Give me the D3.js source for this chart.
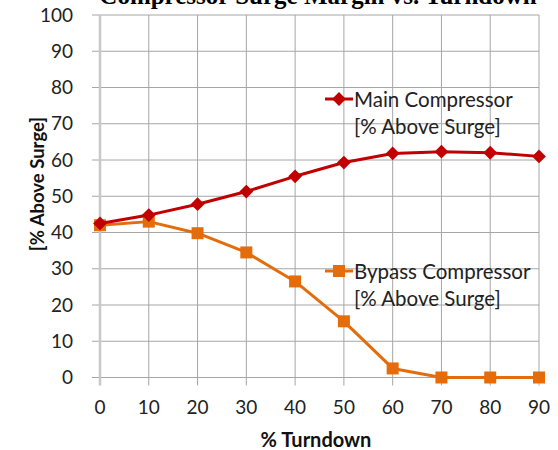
<!DOCTYPE html>
<html>
<head>
<meta charset="utf-8">
<script src="https://cdn.jsdelivr.net/npm/d3@7"></script>
<style>
  html, body { margin: 0; padding: 0; background: #fff; }
  svg { display: block; }
</style>
</head>
<body>
<svg id="chart" width="558" height="450"></svg>
<script>
const turndown = [0, 10, 20, 30, 40, 50, 60, 70, 80, 90];
const mainCompressor = [42.5, 44.8, 47.8, 51.3, 55.5, 59.3, 61.8, 62.3, 62.0, 61.0];
const bypassCompressor = [42.0, 43.0, 39.8, 34.5, 26.5, 15.5, 2.5, 0, 0, 0];
const yTicks = [0, 10, 20, 30, 40, 50, 60, 70, 80, 90, 100];
const xTicks = [0, 10, 20, 30, 40, 50, 60, 70, 80, 90];
const seriesNames = [["Main Compressor", "[% Above Surge]"], ["Bypass Compressor", "[% Above Surge]"]];
const titleText = "Compressor Surge Margin vs. Turndown";

(function () {
const svg = d3.select("#chart");
const font = "Lato, 'Open Sans', sans-serif";
const pLeft = 100, pRight = 539, pTop = 15, pBottom = 377.5;

const x = d3.scaleLinear().domain([0, 90]).range([pLeft, pRight]);
const y = d3.scaleLinear().domain([0, 100]).range([pBottom, pTop]);

// title (cut off at top, as in the reference)
svg.append("text")
  .attr("x", 318).attr("y", 4)
  .attr("text-anchor", "middle")
  .attr("font-family", "'Liberation Serif', serif")
  .attr("font-weight", "bold")
  .attr("font-size", 25)
  .attr("fill", "#000")
  .text(titleText);

// horizontal grid
svg.append("g").selectAll("line").data(yTicks).join("line")
  .attr("x1", pLeft - 8).attr("x2", pRight)
  .attr("y1", d => y(d)).attr("y2", d => y(d))
  .attr("stroke", "#a6a6a6").attr("stroke-width", 1);

// vertical grid
svg.append("g").selectAll("line").data(xTicks).join("line")
  .attr("x1", d => x(d)).attr("x2", d => x(d))
  .attr("y1", pTop).attr("y2", pBottom + 8)
  .attr("stroke", d => d === 0 ? "#c8c8c8" : "#a6a6a6")
  .attr("stroke-width", d => d === 0 ? 2.5 : 1);

// y tick labels
svg.append("g").selectAll("text").data(yTicks).join("text")
  .attr("x", 73).attr("y", d => y(d))
  .attr("dy", "0.35em")
  .attr("text-anchor", "end")
  .attr("font-family", font).attr("font-size", 19)
  .attr("fill", "#222")
  .text(d => d);

// x tick labels
svg.append("g").selectAll("text").data(xTicks).join("text")
  .attr("x", d => x(d)).attr("y", 407)
  .attr("dy", "0.35em")
  .attr("text-anchor", "middle")
  .attr("font-family", font).attr("font-size", 19)
  .attr("fill", "#222")
  .text(d => d);

// axis titles
svg.append("text")
  .attr("transform", `translate(44,184) rotate(-90)`)
  .attr("text-anchor", "middle")
  .attr("font-family", font).attr("font-weight", "bold").attr("font-size", 18.5)
  .attr("fill", "#111")
  .text("[% Above Surge]");

svg.append("text")
  .attr("x", 316).attr("y", 447)
  .attr("text-anchor", "middle")
  .attr("font-family", font).attr("font-weight", "bold").attr("font-size", 20)
  .attr("fill", "#111")
  .text("% Turndown");

const line = d3.line().x((d, i) => x(turndown[i])).y(d => y(d));
const mainColor = "#c00000", bypassColor = "#e46c0a";

// bypass series
svg.append("path").datum(bypassCompressor)
  .attr("d", line).attr("fill", "none")
  .attr("stroke", bypassColor).attr("stroke-width", 3).attr("stroke-linejoin", "round");
svg.append("g").selectAll("rect").data(bypassCompressor).join("rect")
  .attr("x", (d, i) => x(turndown[i]) - 6).attr("y", d => y(d) - 6)
  .attr("width", 12).attr("height", 12)
  .attr("fill", bypassColor);

// main series
svg.append("path").datum(mainCompressor)
  .attr("d", line).attr("fill", "none")
  .attr("stroke", mainColor).attr("stroke-width", 3).attr("stroke-linejoin", "round");
const diamond = d3.symbol().type(d3.symbolSquare).size(95);
svg.append("g").selectAll("path").data(mainCompressor).join("path")
  .attr("transform", (d, i) => `translate(${x(turndown[i])},${y(d)}) rotate(45)`)
  .attr("d", diamond)
  .attr("fill", mainColor);

// legends
const legends = [
  { names: seriesNames[0], color: mainColor, ly: 99, marker: "diamond" },
  { names: seriesNames[1], color: bypassColor, ly: 271, marker: "square" }
];
legends.forEach(l => {
  const g = svg.append("g");
  g.append("line").attr("x1", 325).attr("x2", 353)
    .attr("y1", l.ly).attr("y2", l.ly)
    .attr("stroke", l.color).attr("stroke-width", 3);
  if (l.marker === "diamond") {
    g.append("path").attr("transform", `translate(339,${l.ly}) rotate(45)`)
      .attr("d", diamond).attr("fill", l.color);
  } else {
    g.append("rect").attr("x", 333).attr("y", l.ly - 6).attr("width", 12).attr("height", 12)
      .attr("fill", l.color);
  }
  g.selectAll("text").data(l.names).join("text")
    .attr("x", 354).attr("y", (d, i) => l.ly + 8 + i * 27)
    .attr("font-family", font).attr("font-size", 20.5)
    .attr("fill", "#222")
    .text(d => d);
});
})();
</script>
</body>
</html>
